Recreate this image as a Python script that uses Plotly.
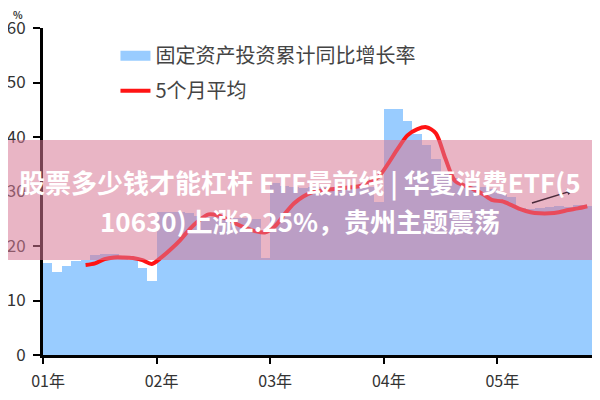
import plotly.graph_objects as go

# ----------------------------
# 1. Data
# ----------------------------
year_labels = ["01年", "02年", "03年", "04年", "05年"]
year_starts = [0, 12, 24, 36, 48]

# 固定资产投资累计同比增长率, monthly, Jan 2001 .. Oct 2005 (%)
growth_2001 = [16.8, 15.3, 16.3, 17.3, 17.5, 18.3, 18.6, 18.5, 18.0, 17.4, 16.0, 13.5]
growth_2002 = [26.3, 26.3, 26.3, 26.0, 25.5, 25.3, 25.3, 25.3, 25.2, 25.2, 25.0, 17.8]
growth_2003 = [31.5, 31.0, 30.8, 30.6, 30.8, 30.9, 30.8, 30.6, 30.7, 30.8, 30.9, 28.0]
growth_2004 = [45.2, 45.2, 43.0, 40.5, 38.5, 36.0, 33.5, 32.5, 31.2, 31.0, 30.8, 30.5]
growth_2005 = [29.5, 29.0, 27.0, 26.8, 27.0, 27.2, 27.3, 27.2, 27.5, 27.3]

# 5个月平均, starting with the 5th month
avg_start = 4
avg_5m = [
    16.5, 16.8, 17.6, 17.9, 17.9, 17.8, 17.4, 16.7,
    17.9, 19.4, 21.1, 23.1, 24.7, 25.8, 25.6, 24.9, 24.0, 23.3, 22.7, 22.5,
    23.6, 25.8, 27.8, 29.1, 29.9, 30.2, 30.4, 30.6, 30.8, 31.0, 31.7, 32.8,
    35.2, 37.9, 40.3, 41.4, 41.8, 40.7, 36.1, 32.0, 31.1, 30.4, 29.5, 28.4,
    28.2, 27.5, 26.7, 26.2, 26.0, 26.0, 26.2, 26.6, 26.9, 27.3,
]

growth = growth_2001 + growth_2002 + growth_2003 + growth_2004 + growth_2005
month_pos = [i + 0.5 for i in range(len(growth))]
avg_pos = month_pos[avg_start:]

BLUE = "#99ccff"
RED = "#ff1414"
FONT = "Noto Sans CJK SC"

# ----------------------------
# 2. Figure
# ----------------------------
fig = go.Figure()

fig.add_trace(go.Bar(
    x=month_pos, y=growth, width=1,
    marker=dict(color=BLUE, line_width=0),
    name="固定资产投资累计同比增长率", showlegend=False,
))
# legend swatch drawn as a wide block, like the original
fig.add_trace(go.Scatter(
    x=[None], y=[None], mode="lines",
    line=dict(color=BLUE, width=14),
    name="固定资产投资累计同比增长率", legendgroup="a",
))
fig.add_trace(go.Scatter(
    x=avg_pos, y=avg_5m, mode="lines",
    line=dict(color=RED, width=4, shape="spline", smoothing=0.8),
    name="5个月平均", legendgroup="b",
))

# the page body adds an 8px offset, so margins are shifted by 8px
fig.update_layout(
    width=600, height=400,
    margin=dict(l=35, r=16, t=20, b=53),
    paper_bgcolor="white", plot_bgcolor="white",
    font=dict(family=FONT, color="#333"),
    bargap=0,
    showlegend=True,
    legend=dict(
        x=0.132, y=0.975, xanchor="left", yanchor="top",
        bgcolor="rgba(0,0,0,0)", font=dict(size=20, color="#444"),
        traceorder="grouped", tracegroupgap=6,
    ),
    xaxis=dict(
        range=[0, 58], tickmode="array", tickvals=year_starts, ticktext=year_labels,
        showline=True, linecolor="black", linewidth=3,
        ticks="outside", ticklen=6, tickwidth=2, tickcolor="black",
        ticklabelstandoff=4, ticklabelshift=5,
        showgrid=False, zeroline=False, automargin=False,
        tickfont=dict(size=16, color="#333"),
    ),
    yaxis=dict(
        range=[0, 60], dtick=10,
        showline=True, linecolor="black", linewidth=3,
        ticks="outside", ticklen=7, tickwidth=2, tickcolor="black",
        ticklabelstandoff=4,
        showgrid=False, zeroline=False, automargin=False,
        tickfont=dict(size=17, color="#333"),
    ),
)

# "%" unit label
fig.add_annotation(
    text="<b>%</b>", xref="paper", yref="paper", x=-0.045, y=1.04,
    xanchor="center", yanchor="middle",
    showarrow=False, font=dict(size=10, color="#333"),
)

# small dark arrow near the right end
fig.add_annotation(
    x=56.0, y=30.2, ax=51.5, ay=27.8, xref="x", yref="y", axref="x", ayref="y",
    text="", showarrow=True, arrowhead=2, arrowsize=0.8, arrowwidth=1.5,
    arrowcolor="#4a2a3a",
)

# pink translucent headline banner
fig.add_shape(
    type="rect", xref="paper", yref="paper",
    x0=-0.1, x1=1.1, y0=0.2905, y1=0.6575,
    fillcolor="rgba(215,120,150,0.55)", line_width=0, layer="above",
)
fig.add_annotation(
    text="<b>股票多少钱才能杠杆 ETF最前线 | 华夏消费ETF(5</b>",
    xref="paper", yref="paper", x=0.468, y=0.529,
    xanchor="center", yanchor="middle", showarrow=False,
    font=dict(size=26, color="white", family=FONT),
)
fig.add_annotation(
    text="<b>10630)上涨2.25%，贵州主题震荡</b>",
    xref="paper", yref="paper", x=0.468, y=0.41,
    xanchor="center", yanchor="middle", showarrow=False,
    font=dict(size=26, color="white", family=FONT),
)

fig.write_html("out.html")
